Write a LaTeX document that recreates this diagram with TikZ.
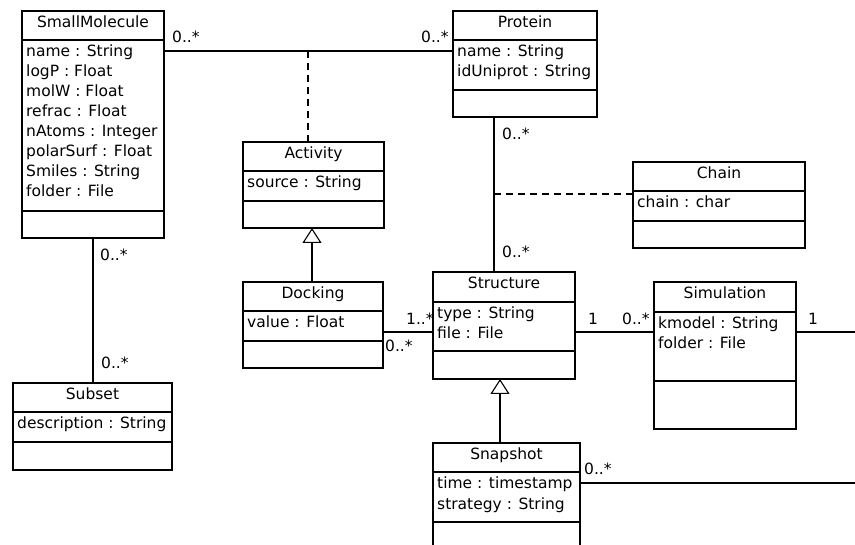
\documentclass[tikz,border=0pt]{standalone}
\usepackage{fontspec}
\setmainfont{DejaVu Sans}
\usetikzlibrary{arrows.meta,calc}
\tikzset{
  ln/.style={line width=1.1pt, black},
  dln/.style={line width=1.1pt, black, dash pattern=on 7pt off 5pt},
  gen/.style={line width=1.1pt, black, -{Triangle[open, length=15pt, width=19pt, line width=1.1pt]}},
  classbox/.style={draw, line width=1.1pt, inner sep=0pt, outer sep=0pt, anchor=north west},
  txt/.style={inner sep=0pt, font=\fontsize{15.5}{20}\selectfont},
  ttl/.style={txt, anchor=base},
  attr/.style={txt, anchor=base west},
  mult/.style={txt, anchor=base west},
}
\newcommand\umlclass[9]{%
  \node[classbox, minimum width={(#4-#2)*1pt}, minimum height={(#5-#3)*1pt}] (#1) at (#2,#3) {};
  \draw[ln] (#2,#6) -- (#4,#6);
  \draw[ln] (#2,#7) -- (#4,#7);
  \node[ttl] (#1-t) at ({(#2+#4)/2},#3+16.5) {#8};
  \foreach \a [count=\i] in {#9} {\node[attr] (#1-\i) at (#2+4,#6+17+20*\i-20) {\a};}
}
\begin{document}
\begin{tikzpicture}[x=1pt,y=-1pt]
\useasboundingbox (0,0) rectangle (855,545);
\fill[white] (0,0) rectangle (855,545);
\clip (0,0) rectangle (855,545);

\umlclass{sm}{22}{11}{164}{238}{40}{211}{SmallMolecule}{name : String,logP : Float,molW : Float,refrac : Float,nAtoms : Integer,polarSurf : Float,Smiles : String,folder : File}
\umlclass{prot}{453}{11}{597}{117}{40}{90}{Protein}{name : String,idUniprot : String}
\umlclass{act}{243}{142}{384}{228}{171}{201}{Activity}{source : String}
\umlclass{dock}{243}{282}{383}{368}{311}{341}{Docking}{value : Float}
\umlclass{chain}{633}{162}{805}{248}{191}{221}{Chain}{chain : char}
\umlclass{struct}{433}{272}{575}{379}{302}{351}{Structure}{type : String,file : File}
\umlclass{sim}{654}{282}{796}{429}{312}{381}{Simulation}{kmodel : String,folder : File}
\umlclass{subset}{13}{383}{172}{470}{412}{442}{Subset}{description : String}
\umlclass{snap}{433}{443}{580}{560}{472}{522}{Snapshot}{time : timestamp,strategy : String}

% helper coordinates
\coordinate (y51) at (0,51);
\coordinate (xa) at (308,0);
\coordinate (xp) at (494,0);
\coordinate (y194) at (0,194);
\coordinate (xg) at (312,0);
\coordinate (y332) at (0,332);
\coordinate (y483) at (0,483);
\coordinate (xs) at (500,0);
\coordinate (xm) at (93,0);
\coordinate (e1) at (855,332);
\coordinate (e2) at (855,483);
\coordinate (asc) at (308,51);
\coordinate (asp) at (494,194);

% associations
\draw[ln] (sm.east |- y51) -- (prot.west |- y51);
\draw[dln] (asc) -- (act.north -| xa);
\draw[ln] (prot.south -| xp) -- (struct.north -| xp);
\draw[dln] (asp) -- (chain.west |- y194);
\draw[ln] (sm.south -| xm) -- (subset.north -| xm);
\draw[ln] (dock.east |- y332) -- (struct.west |- y332);
\draw[ln] (struct.east |- y332) -- (sim.west |- y332);
\draw[ln] (sim.east |- y332) -- (e1);
\draw[ln] (snap.east |- y483) -- (e2);

% generalizations
\draw[gen] (dock.north -| xg) -- (act.south -| xg);
\draw[gen] (snap.north -| xs) -- (struct.south -| xs);

% multiplicities
\node[mult] (m1) at (172,43) {0..*};
\node[mult] (m2) at (421,43) {0..*};
\node[mult] (m3) at (502,140) {0..*};
\node[mult] (m4) at (502,258) {0..*};
\node[mult] (m5) at (100,261) {0..*};
\node[mult] (m6) at (101,369) {0..*};
\node[mult] (m7) at (406,325) {1..*};
\node[mult] (m8) at (385,352) {0..*};
\node[mult] (m9) at (588,325) {1};
\node[mult] (m10) at (622,325) {0..*};
\node[mult] (m11) at (808,325) {1};
\node[mult] (m12) at (584,475) {0..*};
\end{tikzpicture}
\end{document}
